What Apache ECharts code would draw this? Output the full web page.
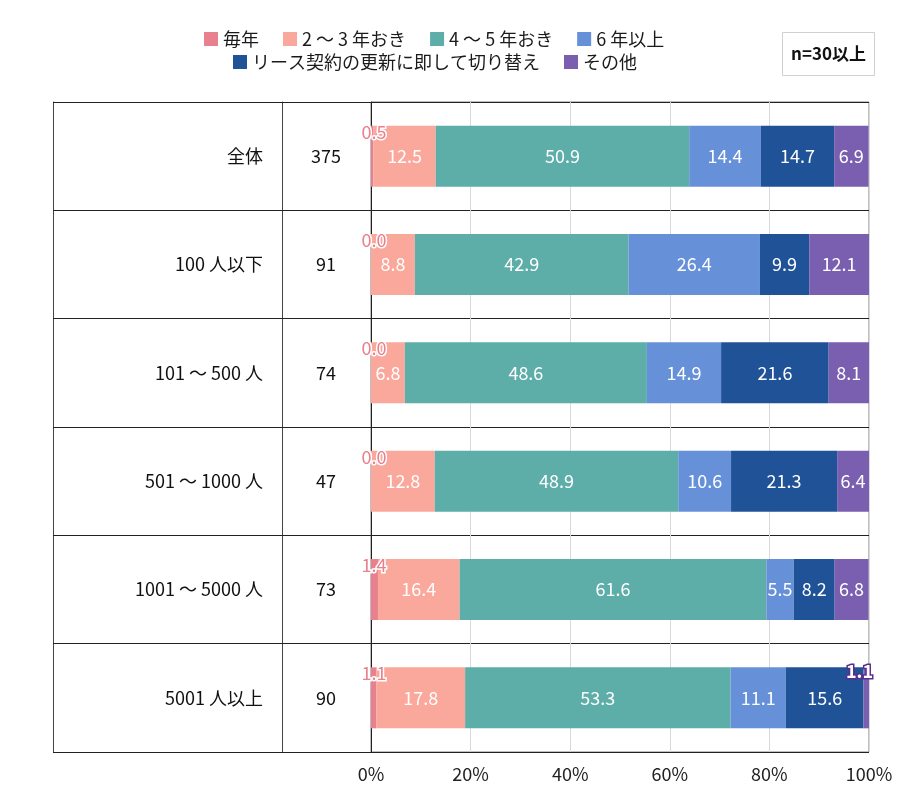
<!DOCTYPE html>
<html><head><meta charset="utf-8">
<script src="https://cdn.jsdelivr.net/npm/echarts@6/dist/echarts.min.js"></script>
<style>html,body{margin:0;padding:0;background:#fff}#c{width:900px;height:802px}</style>
</head><body><div id="c"></div>
<script>
const categories = ['全体', '100 人以下', '101 ～ 500 人', '501 ～ 1000 人', '1001 ～ 5000 人', '5001 人以上'];
const nValues = ['375', '91', '74', '47', '73', '90'];
const seriesNames = ['毎年', '2 ～ 3 年おき', '4 ～ 5 年おき', '6 年以上', 'リース契約の更新に即して切り替え', 'その他'];
const everyYear = [0.5, 0.0, 0.0, 0.0, 1.4, 1.1];
const every2to3 = [12.5, 8.8, 6.8, 12.8, 16.4, 17.8];
const every4to5 = [50.9, 42.9, 48.6, 48.9, 61.6, 53.3];
const over6 = [14.4, 26.4, 14.9, 10.6, 5.5, 11.1];
const leaseRenewal = [14.7, 9.9, 21.6, 21.3, 8.2, 15.6];
const other = [6.9, 12.1, 8.1, 6.4, 6.8, 1.1];
const xTicks = [0, 20, 40, 60, 80, 100];

const colors = ['#E8808E', '#F9A89B', '#5DADA9', '#6690D8', '#1F5297', '#7A5FB0'];
const FONT = '"Noto Sans CJK JP", "Noto Sans", sans-serif';
const FS = 18;
const allData = [everyYear, every2to3, every4to5, over6, leaseRenewal, other];

const insideLabel = {show: true, position: 'inside', color: '#fff', fontSize: FS, fontFamily: FONT,
  formatter: p => p.value.toFixed(1)};

const series = allData.map((arr, si) => {
  const s = {name: seriesNames[si], type: 'bar', stack: 'total', barWidth: 61,
    itemStyle: {color: colors[si]}, label: insideLabel, yAxisIndex: 0,
    data: arr.map(v => ({value: v}))};
  if (si === 0) {
    s.label = {show: true, position: [3, 6], align: 'center', verticalAlign: 'middle',
      color: '#E8808E', textBorderColor: '#fff', textBorderWidth: 3, fontSize: FS, fontFamily: FONT,
      formatter: p => p.value.toFixed(1)};
  }
  if (si === 5) {
    s.data = arr.map(v => v < 3 ? {value: v, label: {position: [-4, 4], align: 'center', verticalAlign: 'middle',
      color: '#fff', textBorderColor: '#5A2D8C', textBorderWidth: 3, fontWeight: 'bold'}} : {value: v});
  }
  return s;
});

const legendText = {fontSize: FS, color: '#1a1a1a', fontFamily: FONT};
const chart = echarts.init(document.getElementById('c'), null, {renderer: 'canvas'});
chart.setOption({
  animation: false,
  textStyle: {fontFamily: FONT},
  title: {text: 'n=30以上', left: 782, top: 32, padding: [11, 9],
    borderColor: '#d0d0d0', borderWidth: 1,
    textStyle: {fontSize: 17, lineHeight: 22, fontWeight: 'bold', color: '#111', fontFamily: FONT}},
  legend: [
    {data: seriesNames.slice(0, 4), left: 199, top: 25, itemWidth: 14, itemHeight: 14, itemGap: 24,
      icon: 'rect', textStyle: legendText},
    {data: seriesNames.slice(4), left: 228, top: 48, itemWidth: 14, itemHeight: 14, itemGap: 24,
      icon: 'rect', textStyle: legendText}
  ],
  grid: {left: 371, right: 31, top: 102, bottom: 50, show: true, borderColor: '#7f7f7f', borderWidth: 1},
  xAxis: {type: 'value', min: xTicks[0], max: xTicks[xTicks.length - 1], interval: xTicks[1] - xTicks[0],
    axisLine: {show: false}, axisTick: {show: false},
    splitLine: {show: true, lineStyle: {color: '#d9d9d9', width: 1}},
    axisLabel: {formatter: '{value}%', fontSize: FS, color: '#222', margin: 13, fontFamily: FONT}},
  yAxis: [
    {type: 'category', data: categories, inverse: true, position: 'left', offset: 0,
      axisLine: {show: true, lineStyle: {color: '#222', width: 1}},
      axisTick: {show: true, length: 318, lineStyle: {color: '#222', width: 1}},
      splitLine: {show: true, lineStyle: {color: '#222', width: 1}},
      axisLabel: {formatter: (v, i) => nValues[i], align: 'center', margin: 45, fontSize: FS, color: '#111', fontFamily: FONT}},
    {type: 'category', data: categories, inverse: true, position: 'left', offset: 89,
      axisLine: {show: true, lineStyle: {color: '#444', width: 1}},
      axisTick: {show: false}, splitLine: {show: false},
      axisLabel: {margin: 19, fontSize: FS, color: '#111', fontFamily: FONT}},
    {type: 'category', data: categories, inverse: true, position: 'left', offset: 318,
      axisLine: {show: true, lineStyle: {color: '#444', width: 1}},
      axisTick: {show: false}, splitLine: {show: false}, axisLabel: {show: false}}
  ],
  series: series
});
</script></body></html>
